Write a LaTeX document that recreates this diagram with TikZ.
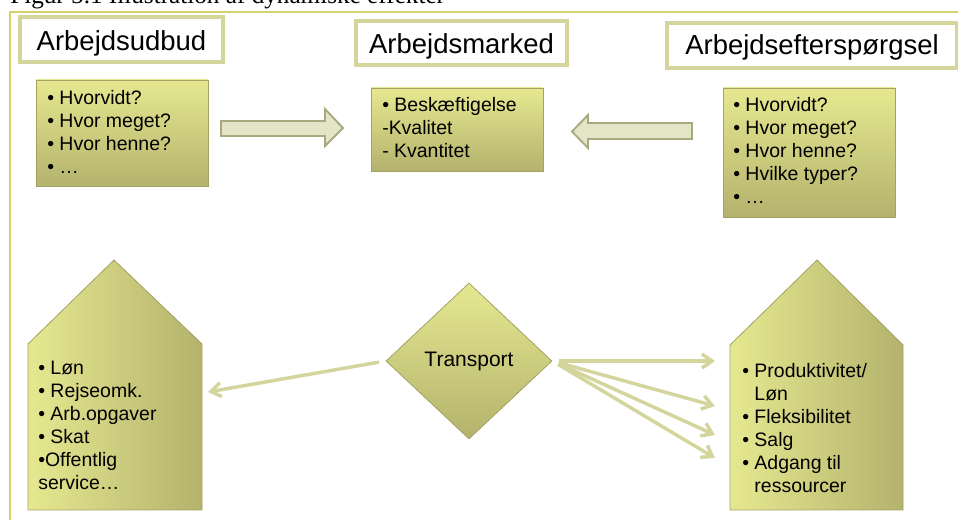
\documentclass[tikz,border=0pt]{standalone}
\usepackage{fontspec}
\setmainfont{Liberation Sans}
\newfontfamily\capfont{Liberation Serif}
\usetikzlibrary{shapes.geometric,arrows.meta}
\definecolor{framecol}{HTML}{D5D16C}
\definecolor{titleedge}{HTML}{D3D59B}
\definecolor{boxlight}{HTML}{E6E890}
\definecolor{boxdark}{HTML}{B4B26D}
\definecolor{boxedge}{HTML}{A3A263}
\definecolor{conncol}{HTML}{D3D59D}
\definecolor{barfill}{HTML}{E3E5C6}
\definecolor{baredge}{HTML}{A7A97F}
\begin{document}
\begin{tikzpicture}[x=0.75pt,y=-0.75pt,
  titlebox/.style={draw=titleedge, line width=2.4pt, fill=white, inner sep=0pt,
    anchor=base, font=\fontsize{20.6}{24}\selectfont},
  listbox/.style={draw=boxedge, line width=0.6pt, top color=boxlight, bottom color=boxdark,
    inner sep=0pt},
  listtext/.style={anchor=base west, inner sep=0pt, font=\fontsize{14.6}{17.25}\selectfont},
  housebox/.style={draw=boxedge, line width=0.6pt, left color=boxlight, right color=boxdark},
  diamondbox/.style={diamond, draw=boxedge, line width=0.6pt, top color=boxlight,
    bottom color=boxdark, inner sep=0pt, font=\fontsize{15.75}{18}\selectfont},
  conn/.style={draw=conncol, line width=2.6pt,
    -{Straight Barb[length=7.5pt,width=10.5pt]}},
  bararrow/.style={draw=baredge, line width=1.4pt, fill=barfill},
  framel/.style={draw=framecol, line width=2.2pt}
]
\useasboundingbox (0,0) rectangle (958,520);

% caption (cut off at top, as in the reference)
\node[anchor=base west, inner sep=0pt, font=\capfont\fontsize{18.9}{20}\selectfont] (cap) at (10,4)
  {Figur 5.1 Illustration af dynamiske effekter};

% frame
\draw[framel] (10,520) -- (10,12) -- (958,12);

% titles
\node[titlebox, minimum width=152.25pt, text height=25.5pt, text depth=8.25pt] (t1) at (121.5,51) {Arbejdsudbud};
\node[titlebox, minimum width=158.25pt, text height=24.75pt, text depth=8.25pt] (t2) at (461.5,54) {Arbejdsmarked};
\node[titlebox, minimum width=217.5pt, text height=24pt, text depth=9.75pt] (t3) at (812,55) {Arbejdsefterspørgsel};

% list boxes
\node[listbox, minimum width=129pt, minimum height=79.5pt] (boxA) at (122,133) {};
\node[listtext] (txtA) at (47,105) {\vtop{\hbox{• Hvorvidt?}\hbox{• Hvor meget?}\hbox{• Hvor henne?}\hbox{• …}}};

\node[listbox, minimum width=129pt, minimum height=62.25pt] (boxB) at (457,129.5) {};
\node[listtext] (txtB) at (382,112) {\vtop{\hbox{• Beskæftigelse}\hbox{-Kvalitet}\hbox{- Kvantitet}}};

\node[listbox, minimum width=129pt, minimum height=96.75pt] (boxC) at (809,152.5) {};
\node[listtext] (txtC) at (733,112) {\vtop{\hbox{• Hvorvidt?}\hbox{• Hvor meget?}\hbox{• Hvor henne?}\hbox{• Hvilke typer?}\hbox{• …}}};

% block arrows
\draw[bararrow] (221,121) -- (325,121) -- (325,109) -- (343,128) -- (325,146) -- (325,136) -- (221,136) -- cycle;
\draw[bararrow] (692,123) -- (588,123) -- (588,115) -- (572,131.5) -- (588,148) -- (588,139) -- (692,139) -- cycle;

% houses
\shadedraw[housebox] (28,344) -- (114,260) -- (202,344) -- (202,510) -- (28,510) -- cycle;
\node[listtext] (txtL) at (38,375) {\vtop{\hbox{• Løn}\hbox{• Rejseomk.}\hbox{• Arb.opgaver}\hbox{• Skat}\hbox{•Offentlig}\hbox{service…}}};

\shadedraw[housebox] (730,345) -- (817,260) -- (903,345) -- (903,510) -- (730,510) -- cycle;
\node[listtext] (txtR) at (742,378) {\vtop{\hbox{• Produktivitet/}\hbox{\hphantom{• }Løn}\hbox{• Fleksibilitet}\hbox{• Salg}\hbox{• Adgang til}\hbox{\hphantom{• }ressourcer}}};

% diamond
\node[diamondbox, minimum width=124.5pt, minimum height=117pt] (tport) at (469,361) {Transport};

% connector end points
\coordinate (eL) at (208,392);
\coordinate (e1) at (715,361);
\coordinate (e2) at (715,406);
\coordinate (e3) at (715,435);
\coordinate (e4) at (715,458);

\draw[conn, shorten <=5pt] (tport.west) -- (eL);
\draw[conn, shorten <=5pt] (tport.east) -- (e1);
\draw[conn, shorten <=5pt] (tport.east) -- (e2);
\draw[conn, shorten <=5pt] (tport.east) -- (e3);
\draw[conn, shorten <=5pt] (tport.east) -- (e4);
\end{tikzpicture}
\end{document}
